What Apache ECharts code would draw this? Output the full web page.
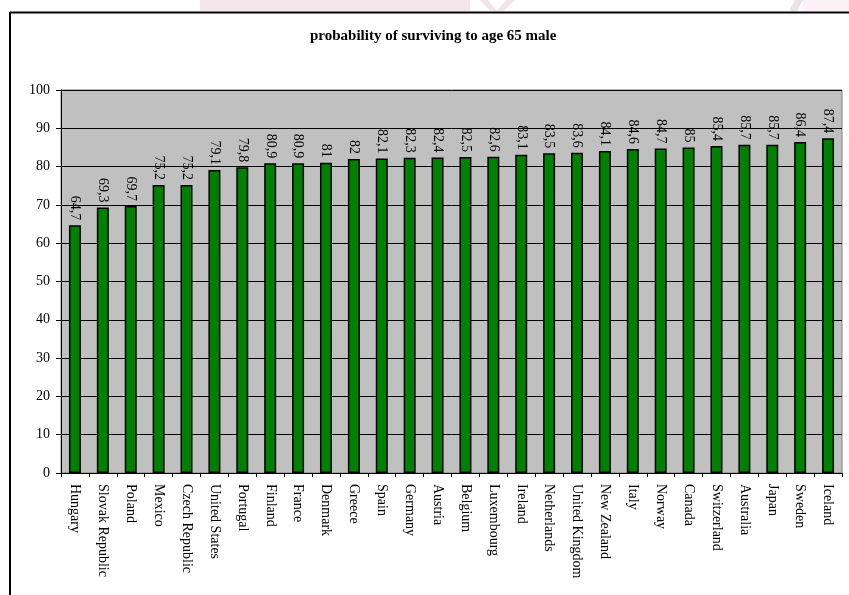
<!DOCTYPE html>
<html lang="en">
<head>
    <meta charset="UTF-8">
    <title>probability of surviving to age 65 male</title>
    <script src="https://cdn.jsdelivr.net/npm/echarts@6/dist/echarts.min.js"></script>
    <style>
        html, body { margin: 0; padding: 0; background: #fff; }
    </style>
</head>
<body>
    <div id="main" style="width: 849px;height:595px;"></div>
    <script type="text/javascript">
        // data
        var countries = ['Hungary', 'Slovak Republic', 'Poland', 'Mexico', 'Czech Republic', 'United States',
            'Portugal', 'Finland', 'France', 'Denmark', 'Greece', 'Spain', 'Germany', 'Austria', 'Belgium',
            'Luxembourg', 'Ireland', 'Netherlands', 'United Kingdom', 'New Zealand', 'Italy', 'Norway',
            'Canada', 'Switzerland', 'Australia', 'Japan', 'Sweden', 'Iceland'];
        var survival = [64.7, 69.3, 69.7, 75.2, 75.2, 79.1, 79.8, 80.9, 80.9, 81, 82, 82.1, 82.3, 82.4, 82.5,
            82.6, 83.1, 83.5, 83.6, 84.1, 84.6, 84.7, 85, 85.4, 85.7, 85.7, 86.4, 87.4];
        var yTicks = [0, 10, 20, 30, 40, 50, 60, 70, 80, 90, 100];

        var serif = "'Liberation Serif', 'Times New Roman', serif";
        var myChart = echarts.init(document.getElementById('main'));

        var option = {
            animation: false,
            backgroundColor: '#fff',
            title: {
                text: 'probability of surviving to age 65 male',
                left: 310,
                top: 29,
                padding: 0,
                textStyle: { fontFamily: serif, fontSize: 15, fontWeight: 'bold', color: '#000' }
            },
            // frame and faint watermark at the top
            graphic: [
                { type: 'rect', shape: { x: 200, y: 0, width: 270, height: 11 }, style: { fill: '#f4e6e9' }, silent: true },
                { type: 'polygon', shape: { points: [[480, 0], [488, 0], [497, 11], [490, 11]] }, style: { fill: '#f0e6e8' }, silent: true },
                { type: 'polygon', shape: { points: [[506, 0], [515, 0], [504, 11], [497, 11]] }, style: { fill: '#f0e6e8' }, silent: true },
                { type: 'polygon', shape: { points: [[795, 0], [803, 0], [797, 11], [789, 11]] }, style: { fill: '#ede3e5' }, silent: true },
                { type: 'rect', shape: { x: 803, y: 0, width: 46, height: 11 }, style: { fill: '#fcf1f7' }, silent: true },
                { type: 'line', shape: { x1: 10, y1: 12.5, x2: 849, y2: 12.5 }, style: { stroke: '#000', lineWidth: 2 }, silent: true },
                { type: 'line', shape: { x1: 10, y1: 12, x2: 10, y2: 595 }, style: { stroke: '#000', lineWidth: 2 }, silent: true }
            ],
            grid: {
                left: 61,
                right: 7,
                top: 90,
                bottom: 122,
                show: true,
                backgroundColor: '#c0c0c0',
                borderColor: '#808080',
                borderWidth: 1
            },
            xAxis: {
                type: 'category',
                data: countries,
                axisLine: { lineStyle: { color: '#000', width: 1 } },
                axisTick: { show: true, length: 4, lineStyle: { color: '#000' } },
                axisLabel: {
                    interval: 0,
                    rotate: -90,
                    margin: 11,
                    fontFamily: serif,
                    fontSize: 14,
                    color: '#000'
                }
            },
            yAxis: {
                type: 'value',
                min: yTicks[0],
                max: yTicks[yTicks.length - 1],
                interval: yTicks[1] - yTicks[0],
                axisLine: { show: true, lineStyle: { color: '#000', width: 1 } },
                axisTick: { show: true, length: 5, lineStyle: { color: '#000' } },
                axisLabel: { margin: 11, fontFamily: serif, fontSize: 14, color: '#000' },
                splitLine: { show: true, lineStyle: { color: '#000', width: 1 } }
            },
            series: [{
                type: 'bar',
                data: survival,
                barWidth: 12,
                itemStyle: { color: '#008000', borderColor: '#000', borderWidth: 1.5 },
                label: {
                    show: true,
                    position: 'top',
                    distance: 5,
                    rotate: -90,
                    align: 'right',
                    verticalAlign: 'middle',
                    fontFamily: serif,
                    fontSize: 14,
                    color: '#000',
                    formatter: function (p) { return String(p.value).replace('.', ','); }
                }
            }]
        };

        myChart.setOption(option);
    </script>
</body>
</html>
